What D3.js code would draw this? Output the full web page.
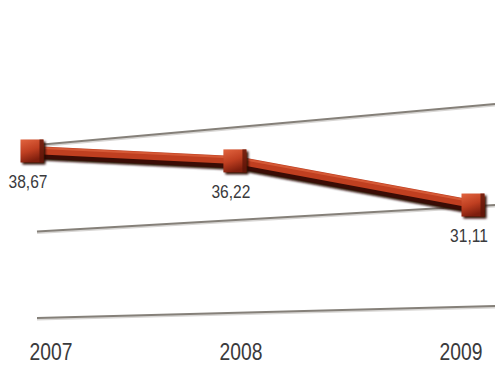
<!DOCTYPE html>
<html>
<head>
<meta charset="utf-8">
<script src="https://cdn.jsdelivr.net/npm/d3@7"></script>
<style>
  html, body { margin: 0; padding: 0; background: #ffffff; }
  svg { display: block; }
  text { font-family: "Liberation Sans", Arial, sans-serif; fill: #3a3a3c; }
</style>
</head>
<body>
<svg id="chart" width="495" height="365"></svg>
<script>
// Series
const years = ["2007", "2008", "2009"];
const values = [38.67, 36.22, 31.11];
const valueLabels = ["38,67", "36,22", "31,11"];
// Reference levels drawn as receding floor lines
const gridLevels = [20, 30, 40];

const W = 495, H = 365;
const svg = d3.select("#chart");

// Horizontal placement: slight perspective widening to the right
const xPoint = d3.scalePow().exponent(1.12).domain([0, years.length - 1]).range([32, 473]);
const xLabel = d3.scalePow().exponent(1.11).domain([0, years.length - 1]).range([51, 461]);

// Vertical value scale plus a tilt that lifts the plane toward the right
const yScale = d3.scaleLinear().domain([30, 40]).range([281.2, 135.7]);
const tilt = d3.scaleLinear().domain([0, W]).range([0, -62.8]);
const py = (v, x) => yScale(v) + tilt(x);

// Grid lines in perspective: near (left) and far (right) ends
const gridNear = d3.scaleLinear().domain([20, 40]).range([318, 145]);
const gridFar = d3.scaleLinear().domain([20, 40]).range([306, 104]);
const gridX0 = 37, gridX1 = W;

const defs = svg.append("defs");
const soft = defs.append("filter").attr("id", "soft")
  .attr("x", "-10%").attr("y", "-50%").attr("width", "120%").attr("height", "200%");
soft.append("feGaussianBlur").attr("stdDeviation", 1.1);

const markerGrad = defs.append("linearGradient").attr("id", "markerFill")
  .attr("x1", 0).attr("y1", 0).attr("x2", 0.35).attr("y2", 1);
markerGrad.append("stop").attr("offset", "0%").attr("stop-color", "#e2643f");
markerGrad.append("stop").attr("offset", "55%").attr("stop-color", "#bf3f21");
markerGrad.append("stop").attr("offset", "100%").attr("stop-color", "#7e1e0d");

// Grid
const grid = svg.append("g");
grid.selectAll("line.shade").data(gridLevels).join("line")
  .attr("class", "shade")
  .attr("x1", gridX0).attr("x2", gridX1)
  .attr("y1", d => gridNear(d) + 1.5).attr("y2", d => gridFar(d) + 1.5)
  .attr("stroke", "#d8d6d4").attr("stroke-width", 2);
grid.selectAll("line.rule").data(gridLevels).join("line")
  .attr("class", "rule")
  .attr("x1", gridX0).attr("x2", gridX1)
  .attr("y1", d => gridNear(d)).attr("y2", d => gridFar(d))
  .attr("stroke", "#858079").attr("stroke-width", 2.2);

// Data line, built in layers for a raised look
const pts = values.map((v, i) => {
  const x = xPoint(i);
  return { x, y: py(v, x), v, i };
});
const line = d3.line().x(d => d.x).y(d => d.y);

const series = svg.append("g");
series.append("path").datum(pts)
  .attr("d", line).attr("transform", "translate(0,3)")
  .attr("fill", "none").attr("stroke", "#2a0904").attr("stroke-width", 12)
  .attr("stroke-linejoin", "round").attr("filter", "url(#soft)");
series.append("path").datum(pts)
  .attr("d", line).attr("transform", "translate(0,2)")
  .attr("fill", "none").attr("stroke", "#3a0c05").attr("stroke-width", 10)
  .attr("stroke-linejoin", "round");
series.append("path").datum(pts)
  .attr("d", line).attr("transform", "translate(0,-1)")
  .attr("fill", "none").attr("stroke", "#c03f20").attr("stroke-width", 8)
  .attr("stroke-linejoin", "round");
series.append("path").datum(pts)
  .attr("d", line).attr("transform", "translate(0,-3.5)")
  .attr("fill", "none").attr("stroke", "#de6540").attr("stroke-width", 2)
  .attr("stroke-opacity", 0.7).attr("stroke-linejoin", "round");

// Square markers
const S = 23;
const markers = series.selectAll("g.marker").data(pts).join("g")
  .attr("class", "marker")
  .attr("transform", d => `translate(${d.x},${d.y})`);
markers.append("rect")
  .attr("x", -S / 2 + 2).attr("y", -S / 2 + 2).attr("width", S).attr("height", S)
  .attr("fill", "#2e0a05").attr("filter", "url(#soft)");
markers.append("rect")
  .attr("x", -S / 2).attr("y", -S / 2).attr("width", S).attr("height", S)
  .attr("fill", "url(#markerFill)");
markers.append("rect")
  .attr("x", S / 2 - 4).attr("y", -S / 2).attr("width", 4).attr("height", S)
  .attr("fill", "#5a1408").attr("opacity", 0.75);

// Value labels under each marker
svg.append("g").selectAll("text").data(pts).join("text")
  .attr("transform", d => `translate(${d.x - 4},${d.y + 37}) scale(0.82,1)`)
  .attr("text-anchor", "middle")
  .attr("font-size", 19)
  .text(d => valueLabels[d.i]);

// Year labels along the bottom
svg.append("g").selectAll("text").data(years).join("text")
  .attr("transform", (d, i) => `translate(${xLabel(i)},360) scale(0.84,1)`)
  .attr("text-anchor", "middle")
  .attr("font-size", 23)
  .text(d => d);
</script>
</body>
</html>
